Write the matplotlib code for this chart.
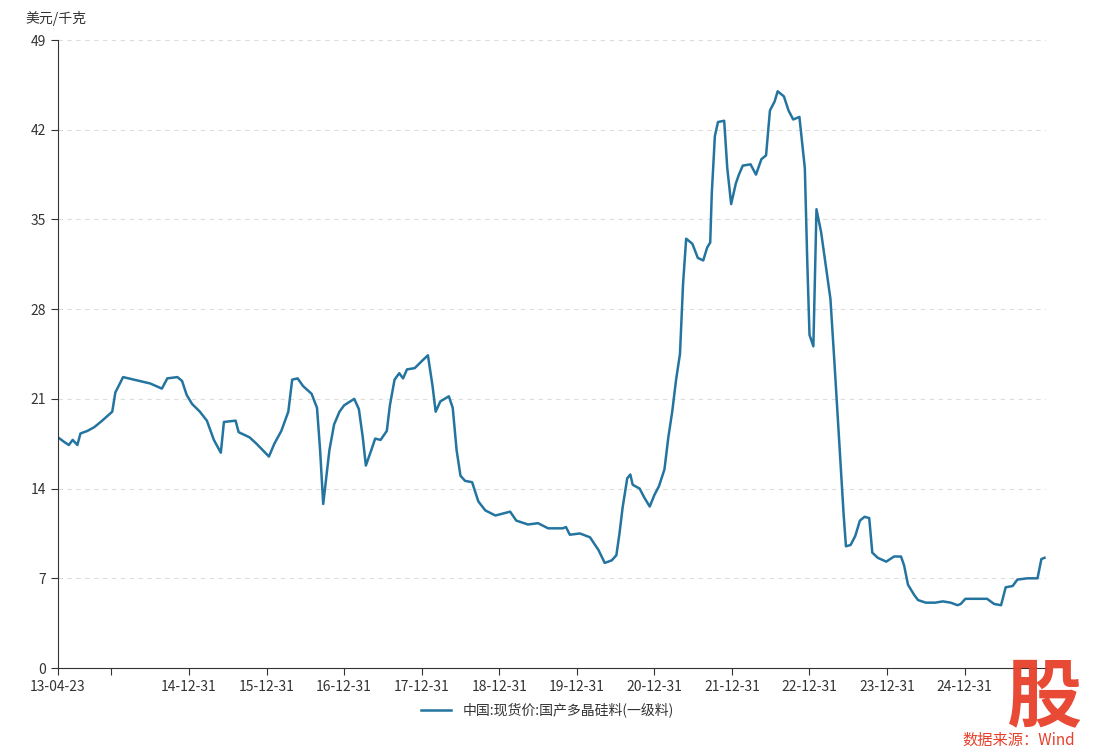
import matplotlib.pyplot as plt
import pandas as pd

plt.rcParams['font.family'] = ['Noto Sans CJK SC', 'DejaVu Sans']

# decimal year (14-12-31 == 2015.0) and price, USD/kg
years = [2013.31, 2013.40, 2013.45, 2013.50, 2013.56, 2013.60, 2013.69, 2013.78, 2013.88, 2014.01,
         2014.05, 2014.15, 2014.50, 2014.65, 2014.72, 2014.85, 2014.91, 2014.97, 2015.04, 2015.14,
         2015.23, 2015.32, 2015.41, 2015.45, 2015.60, 2015.64, 2015.78, 2015.87, 2016.03, 2016.10,
         2016.19, 2016.28, 2016.33, 2016.40, 2016.47, 2016.58, 2016.65, 2016.69, 2016.73, 2016.81,
         2016.87, 2016.94, 2017.00, 2017.13, 2017.19, 2017.24, 2017.28, 2017.35, 2017.40, 2017.47,
         2017.55, 2017.59, 2017.65, 2017.71, 2017.76, 2017.81, 2017.91, 2018.01, 2018.08, 2018.14,
         2018.18, 2018.24, 2018.35, 2018.40, 2018.45, 2018.50, 2018.56, 2018.65, 2018.73, 2018.82,
         2018.95, 2019.14, 2019.22, 2019.37, 2019.50, 2019.63, 2019.82, 2019.86, 2019.91, 2020.04,
         2020.17, 2020.28, 2020.36, 2020.45, 2020.51, 2020.55, 2020.59, 2020.65, 2020.69, 2020.72,
         2020.81, 2020.87, 2020.94, 2021.00, 2021.06, 2021.13, 2021.18, 2021.23, 2021.28, 2021.33,
         2021.37, 2021.41, 2021.49, 2021.56, 2021.63, 2021.68, 2021.72, 2021.74, 2021.78, 2021.82,
         2021.90, 2021.94, 2021.99, 2022.05, 2022.09, 2022.14, 2022.24, 2022.31, 2022.38, 2022.44,
         2022.49, 2022.55, 2022.59, 2022.67, 2022.73, 2022.79, 2022.87, 2022.94, 2022.97, 2023.00,
         2023.05, 2023.09, 2023.15, 2023.22, 2023.27, 2023.32, 2023.36, 2023.40, 2023.44, 2023.47,
         2023.53, 2023.59, 2023.65, 2023.71, 2023.77, 2023.81, 2023.88, 2023.99, 2024.09, 2024.18,
         2024.22, 2024.27, 2024.35, 2024.40, 2024.50, 2024.62, 2024.72, 2024.82, 2024.91, 2024.95,
         2025.01, 2025.29, 2025.38, 2025.47, 2025.53, 2025.62, 2025.68, 2025.81, 2025.94, 2025.99,
         2026.03]
price = [18.0, 17.6, 17.4, 17.8, 17.4, 18.3, 18.5, 18.8, 19.3, 20.0,
         21.5, 22.7, 22.2, 21.8, 22.6, 22.7, 22.4, 21.3, 20.6, 20.0,
         19.3, 17.8, 16.8, 19.2, 19.3, 18.4, 18.0, 17.5, 16.5, 17.5,
         18.5, 20.0, 22.5, 22.6, 22.0, 21.4, 20.3, 17.0, 12.8, 17.0,
         19.0, 20.0, 20.5, 21.0, 20.2, 18.0, 15.8, 17.0, 17.9, 17.8,
         18.5, 20.5, 22.5, 23.0, 22.6, 23.3, 23.4, 24.0, 24.4, 22.0,
         20.0, 20.8, 21.2, 20.3, 17.0, 15.0, 14.6, 14.5, 13.0, 12.3,
         11.9, 12.2, 11.5, 11.2, 11.3, 10.9, 10.9, 11.0, 10.4, 10.5,
         10.2, 9.2, 8.2, 8.4, 8.8, 10.5, 12.5, 14.8, 15.1, 14.3,
         14.0, 13.3, 12.6, 13.5, 14.2, 15.5, 18.0, 20.0, 22.5, 24.5,
         30.0, 33.5, 33.1, 32.0, 31.8, 32.8, 33.2, 37.0, 41.5, 42.6,
         42.7, 39.0, 36.2, 37.8, 38.5, 39.2, 39.3, 38.5, 39.7, 40.0,
         43.5, 44.2, 45.0, 44.6, 43.5, 42.8, 43.0, 39.0, 32.0, 26.0,
         25.1, 35.8, 34.0, 31.0, 28.8, 24.0, 20.0, 16.0, 12.0, 9.5,
         9.6, 10.3, 11.5, 11.8, 11.7, 9.0, 8.6, 8.3, 8.7, 8.7,
         8.0, 6.5, 5.7, 5.3, 5.1, 5.1, 5.2, 5.1, 4.9, 5.0,
         5.4, 5.4, 5.0, 4.9, 6.3, 6.4, 6.9, 7.0, 7.0, 8.5,
         8.6]

tick_pos = [2013.31, 2014.0] + list(range(2015, 2026))
tick_labels = ['13-04-23', ''] + [f'{y - 1 - 2000}-12-31' for y in range(2015, 2026)]
y_ticks = [0, 7, 14, 21, 28, 35, 42, 49]

fig = plt.figure(figsize=(11.04, 7.55), dpi=100)
ax = fig.add_axes([0.0525, 0.1152, 0.895, 0.8318])

ax.plot(years, price, color='#2474a0', lw=1.8, label='中国:现货价:国产多晶硅料(一级料)')

ax.set_xlim(2013.31, 2026.05)
ax.set_ylim(0, 49)
ax.set_xticks(tick_pos)
ax.set_xticklabels(tick_labels, fontsize=10, color='#333333')
ax.set_yticks(y_ticks)
ax.set_yticklabels([str(v) for v in y_ticks], fontsize=10, color='#333333')
ax.grid(axis='y', linestyle=(0, (4, 4)), color='#dddddd', lw=0.8)
for s in ['top', 'right']:
    ax.spines[s].set_visible(False)
for s in ['left', 'bottom']:
    ax.spines[s].set_color('#333333')
ax.tick_params(axis='both', color='#333333', length=5)

fig.text(0.0235, 0.975, '美元/千克', fontsize=10, color='#333333', va='center')
ax.legend(loc='upper center', bbox_to_anchor=(0.495, -0.035), frameon=False,
          fontsize=10, handlelength=2.2, labelcolor='#333333')

fig.text(0.946, 0.075, '股', fontsize=54, color='#e8402a', ha='center', va='center',
         fontweight='bold', alpha=0.95)
fig.text(0.923, 0.02, '数据来源：Wind', fontsize=11, color='#e8402a', ha='center', va='center')

fig.savefig('out.png', dpi=100)
